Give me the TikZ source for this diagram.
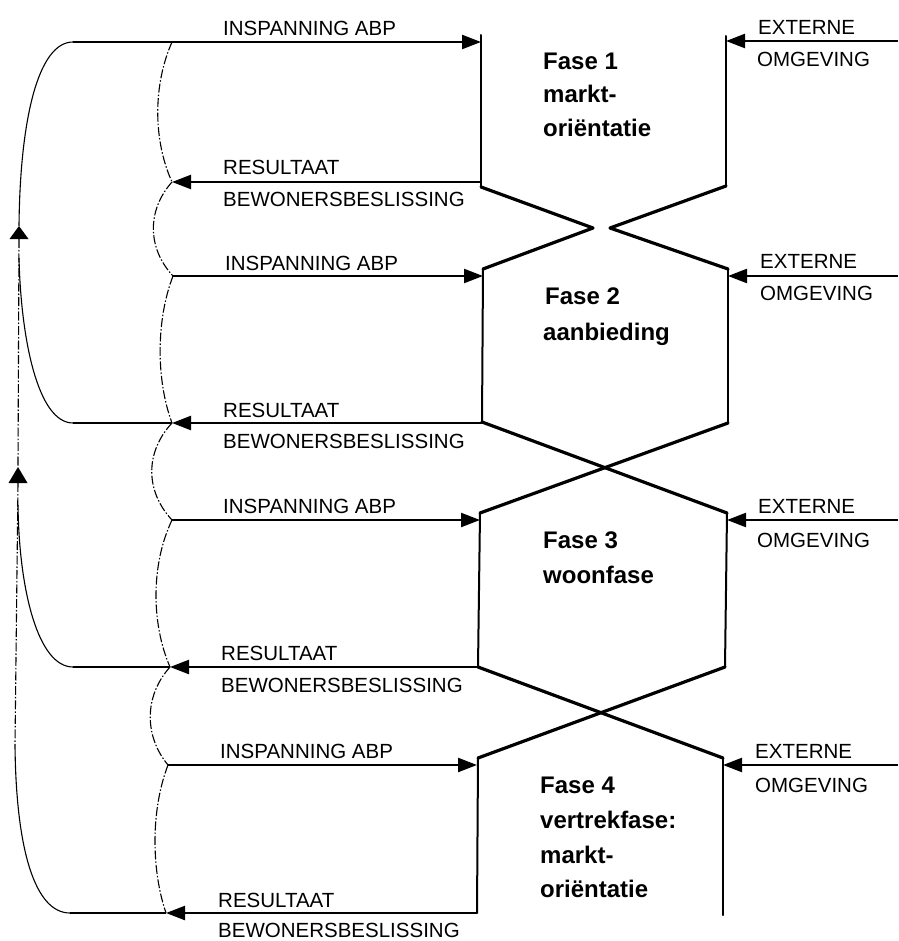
\documentclass[tikz,border=0pt]{standalone}
\usepackage{fontspec}
\setmainfont{Liberation Sans}
\usetikzlibrary{arrows.meta}
\begin{document}
\begin{tikzpicture}[x=1pt,y=-1pt,
  hline/.style={line width=2.3pt},
  edgel/.style={line width=2pt,line cap=round},
  crossl/.style={line width=3.2pt,line cap=round,line join=round},
  thinc/.style={line width=1.1pt},
  ddot/.style={line width=1.1pt,dash pattern=on 9pt off 2pt on 1.5pt off 2pt},
  tipr/.style={-{Triangle[length=19pt,width=14pt]}},
  lbl/.style={font=\fontsize{20.5}{22}\selectfont,inner sep=0pt,anchor=base west},
  fase/.style={font=\fontsize{24}{28}\selectfont\bfseries,inner sep=0pt,anchor=base west}]
\useasboundingbox (0,0) rectangle (898,941);
\fill[white] (0,0) rectangle (898,941);
% box corners
\coordinate (L1t) at (481,35);  \coordinate (L1b) at (481,187);
\coordinate (R1t) at (726,36);  \coordinate (R1b) at (726,186);
\coordinate (X1l) at (593,228); \coordinate (X1r) at (610,228);
\coordinate (L2t) at (483,269); \coordinate (L2b) at (482,422);
\coordinate (R2t) at (728,269); \coordinate (R2b) at (728,423);
\coordinate (L3t) at (480,513); \coordinate (L3b) at (478,667);
\coordinate (R3t) at (727,513); \coordinate (R3b) at (725,667);
\coordinate (L4t) at (478,758); \coordinate (L4b) at (477,913);
\coordinate (R4t) at (723,758); \coordinate (R4b) at (723,915);
% vertical edges
\draw[edgel] (L1t) -- (L1b);
\draw[edgel] (R1t) -- (R1b);
\draw[edgel] (L2t) -- (L2b);
\draw[edgel] (R2t) -- (R2b);
\draw[edgel] (L3t) -- (L3b);
\draw[edgel] (R3t) -- (R3b);
\draw[edgel] (L4t) -- (L4b);
\draw[edgel] (R4t) -- (R4b);
% crossings
\draw[crossl] (L1b) -- (X1l) -- (L2t);
\draw[crossl] (R1b) -- (X1r) -- (R2t);
\draw[crossl] (L2b) -- (R3t);
\draw[crossl] (R2b) -- (L3t);
\draw[crossl] (L3b) -- (R4t);
\draw[crossl] (R3b) -- (L4t);
% joins of inner curves
\coordinate (j1) at (172,42);  \coordinate (j2) at (172,182);
\coordinate (j3) at (173,276); \coordinate (j4) at (172,423);
\coordinate (j5) at (172,520); \coordinate (j6) at (170,667);
\coordinate (j7) at (168,765); \coordinate (j8) at (166,913);
% outer joins
\coordinate (o1) at (73,42);  \coordinate (o2) at (73,423);
\coordinate (o3) at (73,667); \coordinate (o4) at (70,913);
% edge points of horizontals
\coordinate (e1) at (481,42);  \coordinate (e2) at (481,182);
\coordinate (e3) at (483,276); \coordinate (e4) at (482,423);
\coordinate (e5) at (480,520); \coordinate (e6) at (478,667);
\coordinate (e7) at (477,765); \coordinate (e8) at (477,913);
% right side
\coordinate (x1) at (898,41);  \coordinate (r1) at (726,41);
\coordinate (x2) at (898,276); \coordinate (r2) at (728,276);
\coordinate (x3) at (898,520); \coordinate (r3) at (727,520);
\coordinate (x4) at (898,765); \coordinate (r4) at (723,765);
% horizontals
\draw[hline,tipr] (o1) -- (e1);
\draw[hline,tipr] (e2) -- (j2);
\draw[hline,tipr] (j3) -- (e3);
\draw[hline,tipr] (e4) -- (j4);
\draw[hline] (j4) -- (o2);
\draw[hline,tipr] (j5) -- (e5);
\draw[hline,tipr] (e6) -- (j6);
\draw[hline] (j6) -- (o3);
\draw[hline,tipr] (j7) -- (e7);
\draw[hline,tipr] (e8) -- (j8);
\draw[hline] (j8) -- (o4);
\draw[hline,tipr] (x1) -- (r1);
\draw[hline,tipr] (x2) -- (r2);
\draw[hline,tipr] (x3) -- (r3);
\draw[hline,tipr] (x4) -- (r4);
% inner curves
\draw[ddot] (j1) .. controls (153,85) and (153,140) .. (j2);
\draw[ddot] (j2) .. controls (147,210) and (147,248) .. (j3);
\draw[ddot] (j3) .. controls (156,320) and (156,380) .. (j4);
\draw[ddot] (j4) .. controls (145,452) and (145,491) .. (j5);
\draw[ddot] (j5) .. controls (151,564) and (151,623) .. (j6);
\draw[ddot] (j6) .. controls (144,696) and (144,736) .. (j7);
\draw[ddot] (j7) .. controls (151,809) and (151,869) .. (j8);
% outer loop
\coordinate (t1) at (19,226); \coordinate (t1b) at (19,239);
\coordinate (t2) at (18,467); \coordinate (t2b) at (18,483);
\coordinate (m2) at (19,258); \coordinate (m3) at (18,505);
\coordinate (v4) at (15,745);
\draw[thinc] (o1) .. controls (38,42) and (20,120) .. (t1);
\draw[ddot] (t1b) -- (t2);
\draw[thinc] (o2) .. controls (38,423) and (21,340) .. (m2);
\draw[ddot] (t2b) -- (v4);
\draw[thinc] (o3) .. controls (38,667) and (19,590) .. (m3);
\draw[thinc] (o4) .. controls (35,913) and (16,850) .. (v4);
\fill (t1) -- (28.5,239) -- (9.5,239) -- cycle;
\fill (t2) -- (27.5,483) -- (8.5,483) -- cycle;
% labels
\node[lbl] (li1) at (223,36) {INSPANNING ABP};
\node[lbl] (lr1) at (223,175) {RESULTAAT};
\node[lbl] (lb1) at (223,207) {BEWONERSBESLISSING};
\node[lbl] (li2) at (225,270) {INSPANNING ABP};
\node[lbl] (lr2) at (223,417) {RESULTAAT};
\node[lbl] (lb2) at (223,448) {BEWONERSBESLISSING};
\node[lbl] (li3) at (223,513) {INSPANNING ABP};
\node[lbl] (lr3) at (221,660) {RESULTAAT};
\node[lbl] (lb3) at (221,692) {BEWONERSBESLISSING};
\node[lbl] (li4) at (220,758) {INSPANNING ABP};
\node[lbl] (lr4) at (218,907) {RESULTAAT};
\node[lbl] (lb4) at (218,937) {BEWONERSBESLISSING};
\node[lbl] (ex1) at (758,35) {EXTERNE};
\node[lbl] (om1) at (757,67) {OMGEVING};
\node[lbl] (ex2) at (760,268) {EXTERNE};
\node[lbl] (om2) at (760,300) {OMGEVING};
\node[lbl] (ex3) at (758,513) {EXTERNE};
\node[lbl] (om3) at (757,547) {OMGEVING};
\node[lbl] (ex4) at (755,758) {EXTERNE};
\node[lbl] (om4) at (755,792) {OMGEVING};
% phase texts
\node[fase] (f1a) at (543,70) {Fase 1};
\node[fase] (f1b) at (543,103) {markt-};
\node[fase] (f1c) at (543,137) {oriëntatie};
\node[fase] (f2a) at (545,304) {Fase 2};
\node[fase] (f2b) at (543,340) {aanbieding};
\node[fase] (f3a) at (543,548) {Fase 3};
\node[fase] (f3b) at (543,583) {woonfase};
\node[fase] (f4a) at (540,793) {Fase 4};
\node[fase] (f4b) at (540,828) {vertrekfase:};
\node[fase] (f4c) at (540,863) {markt-};
\node[fase] (f4d) at (540,897) {oriëntatie};
\end{tikzpicture}
\end{document}
